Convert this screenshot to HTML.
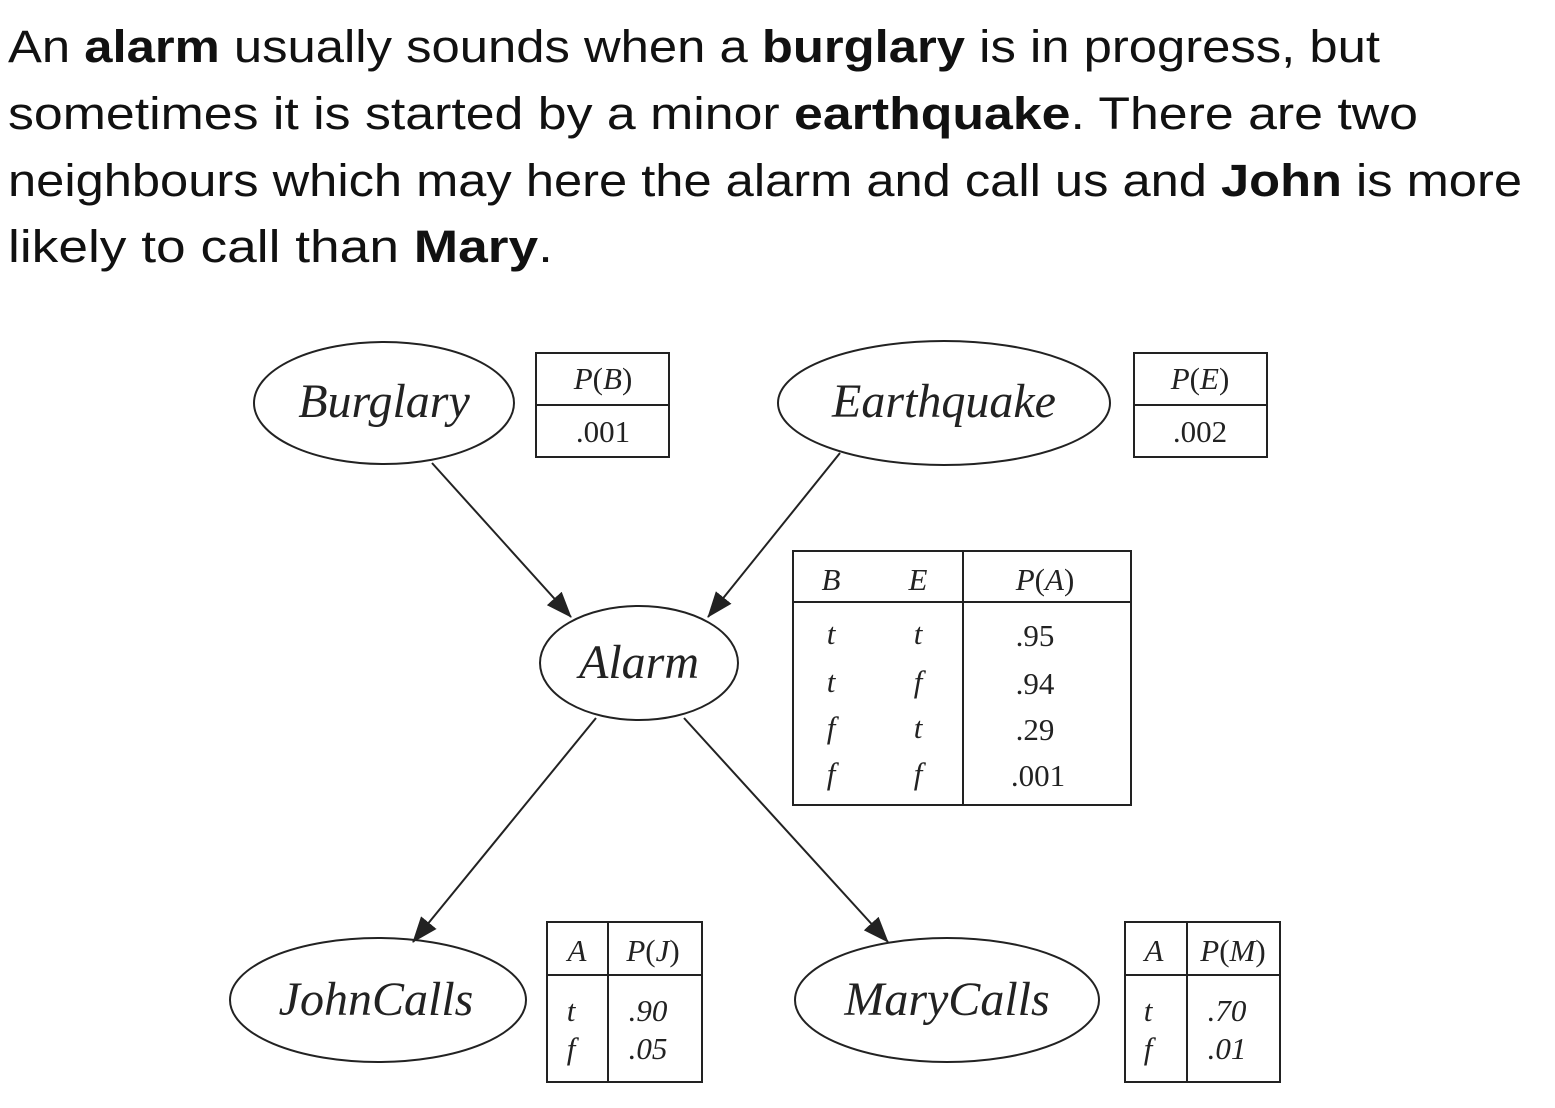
<!DOCTYPE html>
<html><head><meta charset="utf-8"><style>
html,body{margin:0;padding:0;background:#fff;}
svg{display:block;}
.t{font-family:"Liberation Sans",sans-serif;font-size:45px;fill:#111;}
.b{font-weight:bold;}
.n{font-family:"Liberation Serif",serif;font-style:italic;font-size:48px;fill:#222;}
.c{font-family:"Liberation Serif",serif;font-size:31px;fill:#222;}
.i{font-style:italic;}
</style></head><body>
<svg width="1555" height="1108" viewBox="0 0 1555 1108">
<defs>
<marker id="ah2" markerWidth="26" markerHeight="20" refX="25" refY="10" orient="auto" markerUnits="userSpaceOnUse" viewBox="0 0 26 20"><path d="M0,0 L26,10 L0,20 z" fill="#222"/></marker></defs>
<g>
<text class="t" x="8" y="62" textLength="1372" lengthAdjust="spacingAndGlyphs">An <tspan class="b">alarm</tspan> usually sounds when a <tspan class="b">burglary</tspan> is in progress, but</text>
<text class="t" x="8" y="129" textLength="1410" lengthAdjust="spacingAndGlyphs">sometimes it is started by a minor <tspan class="b">earthquake</tspan>.  There are two</text>
<text class="t" x="8" y="196" textLength="1514" lengthAdjust="spacingAndGlyphs">neighbours which may here the alarm and call us and <tspan class="b">John</tspan> is more</text>
<text class="t" x="8" y="262" textLength="545" lengthAdjust="spacingAndGlyphs">likely to call than <tspan class="b">Mary</tspan>.</text>
</g>
<g fill="none" stroke="#222" stroke-width="2">
<line x1="432" y1="463" x2="571" y2="617" marker-end="url(#ah2)"/>
<line x1="840" y1="453" x2="708" y2="617" marker-end="url(#ah2)"/>
<line x1="596" y1="718" x2="413" y2="942" marker-end="url(#ah2)"/>
<line x1="684" y1="718" x2="888" y2="942" marker-end="url(#ah2)"/>
<ellipse cx="384" cy="403" rx="130" ry="61"/>
<ellipse cx="944" cy="403" rx="166" ry="62"/>
<ellipse cx="639" cy="663" rx="99" ry="57"/>
<ellipse cx="378" cy="1000" rx="148" ry="62"/>
<ellipse cx="947" cy="1000" rx="152" ry="62"/>
<g><rect x="536" y="353" width="133" height="104"/><line x1="536" y1="405" x2="669" y2="405"/></g>
<g><rect x="1134" y="353" width="133" height="104"/><line x1="1134" y1="405" x2="1267" y2="405"/></g>
<g><rect x="793" y="551" width="338" height="254"/><line x1="793" y1="602" x2="1131" y2="602"/><line x1="963" y1="551" x2="963" y2="805"/></g>
<g><rect x="547" y="922" width="155" height="160"/><line x1="547" y1="975" x2="702" y2="975"/><line x1="608" y1="922" x2="608" y2="1082"/></g>
<g><rect x="1125" y="922" width="155" height="160"/><line x1="1125" y1="975" x2="1280" y2="975"/><line x1="1187" y1="922" x2="1187" y2="1082"/></g>
</g>
<g text-anchor="middle">
<text class="n" x="384" y="417">Burglary</text>
<text class="n" x="944" y="417">Earthquake</text>
<text class="n" x="639" y="678">Alarm</text>
<text class="n" x="376" y="1015">JohnCalls</text>
<text class="n" x="947" y="1015">MaryCalls</text>
<text class="c" x="603" y="389"><tspan class="i">P</tspan>(<tspan class="i">B</tspan>)</text>
<text class="c" x="603" y="442">.001</text>
<text class="c" x="1200" y="389"><tspan class="i">P</tspan>(<tspan class="i">E</tspan>)</text>
<text class="c" x="1200" y="442">.002</text>
<text class="c i" x="831" y="590">B</text><text class="c i" x="918" y="590">E</text>
<text class="c" x="1045" y="590"><tspan class="i">P</tspan>(<tspan class="i">A</tspan>)</text>
<text class="c i" x="831" y="644">t</text><text class="c i" x="918" y="644">t</text><text class="c" x="1035" y="646">.95</text>
<text class="c i" x="831" y="692">t</text><text class="c i" x="918" y="692">f</text><text class="c" x="1035" y="694">.94</text>
<text class="c i" x="831" y="738">f</text><text class="c i" x="918" y="738">t</text><text class="c" x="1035" y="740">.29</text>
<text class="c i" x="831" y="784">f</text><text class="c i" x="918" y="784">f</text><text class="c" x="1038" y="786">.001</text>
<text class="c i" x="577" y="961">A</text><text class="c" x="653" y="961"><tspan class="i">P</tspan>(<tspan class="i">J</tspan>)</text>
<text class="c i" x="571" y="1021">t</text><text class="c i" x="571" y="1059">f</text>
<text class="c i" x="648" y="1021">.90</text><text class="c i" x="648" y="1059">.05</text>
<text class="c i" x="1154" y="961">A</text><text class="c" x="1233" y="961"><tspan class="i">P</tspan>(<tspan class="i">M</tspan>)</text>
<text class="c i" x="1148" y="1021">t</text><text class="c i" x="1148" y="1059">f</text>
<text class="c i" x="1227" y="1021">.70</text><text class="c i" x="1227" y="1059">.01</text>
</g>
</svg>
</body></html>
